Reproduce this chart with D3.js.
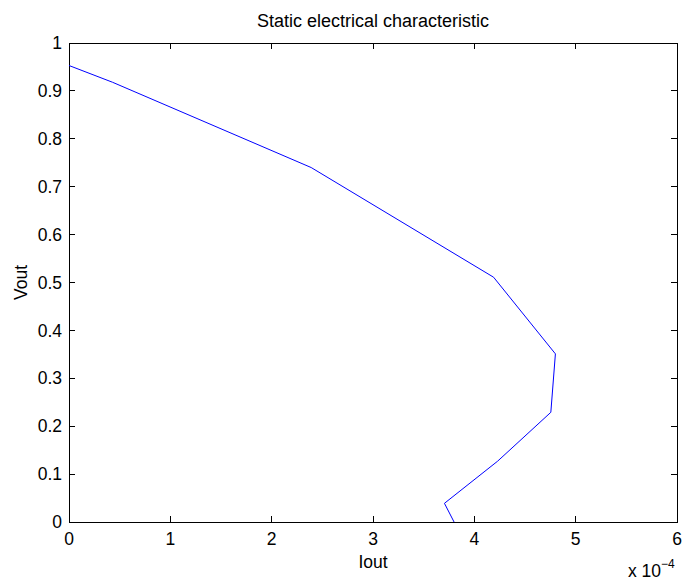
<!DOCTYPE html>
<html>
<head>
<meta charset="utf-8">
<script src="https://cdn.jsdelivr.net/npm/d3@7"></script>
<style>
  html, body { margin: 0; padding: 0; background: #fff; }
  svg { display: block; font-family: "Liberation Sans", Arial, Helvetica, sans-serif; }
</style>
</head>
<body>
<svg id="chart" width="686" height="581"></svg>
<script>
// Data (Iout in units of 1e-4 A, Vout in V)
const iout = [0, 0.43, 2.39, 4.19, 4.80, 4.755, 4.23, 3.705, 3.80];
const vout = [0.953, 0.918, 0.740, 0.511, 0.351, 0.229, 0.127, 0.039, 0];
const xTicks = [0, 1, 2, 3, 4, 5, 6];
const yTicks = [0, 0.1, 0.2, 0.3, 0.4, 0.5, 0.6, 0.7, 0.8, 0.9, 1];
const titleText = "Static electrical characteristic";
const xLabel = "Iout";
const yLabel = "Vout";

const svg = d3.select("#chart");
const L = 69, R = 677, T = 43, B = 522;
const x = d3.scaleLinear().domain([0, 6]).range([L, R]);
const y = d3.scaleLinear().domain([0, 1]).range([B, T]);
const fs = 17.5;

// box
svg.append("rect").attr("x", L).attr("y", T).attr("width", R - L).attr("height", B - T)
  .attr("fill", "#fff").attr("stroke", "#000").attr("stroke-width", 1).attr("shape-rendering", "crispEdges");

// ticks
const tk = svg.append("g").attr("stroke", "#000").attr("stroke-width", 1).attr("shape-rendering", "crispEdges");
xTicks.forEach(v => {
  tk.append("line").attr("x1", x(v)).attr("x2", x(v)).attr("y1", B).attr("y2", B - 6);
  tk.append("line").attr("x1", x(v)).attr("x2", x(v)).attr("y1", T).attr("y2", T + 6);
});
yTicks.forEach(v => {
  tk.append("line").attr("x1", L).attr("x2", L + 6).attr("y1", y(v)).attr("y2", y(v));
  tk.append("line").attr("x1", R).attr("x2", R - 6).attr("y1", y(v)).attr("y2", y(v));
});

// tick labels
svg.append("g").selectAll("text").data(xTicks).join("text")
  .attr("x", d => x(d)).attr("y", B + 23).attr("text-anchor", "middle")
  .attr("font-size", fs).attr("fill", "#000").text(d => d3.format("")(d));
svg.append("g").selectAll("text").data(yTicks).join("text")
  .attr("x", L - 7).attr("y", d => y(d)).attr("dy", "0.35em").attr("text-anchor", "end")
  .attr("font-size", fs).attr("fill", "#000").text(d => d3.format("")(d));

// exponent label
const ex = svg.append("text").attr("x", 628).attr("y", 577).attr("font-size", fs).attr("fill", "#000");
ex.append("tspan").text("x 10");
ex.append("tspan").attr("dy", -9).attr("font-size", 12).text("\u22124");

// axis labels & title
svg.append("text").attr("x", (L + R) / 2).attr("y", 568).attr("text-anchor", "middle")
  .attr("font-size", fs).attr("fill", "#000").text(xLabel);
svg.append("text").attr("transform", `translate(27,${(T + B) / 2}) rotate(-90)`)
  .attr("text-anchor", "middle").attr("font-size", fs).attr("fill", "#000").text(yLabel);
svg.append("text").attr("x", (L + R) / 2).attr("y", 27).attr("text-anchor", "middle")
  .attr("font-size", 18).attr("fill", "#000").text(titleText);

// line
const pts = iout.map((d, i) => [d, vout[i]]);
svg.append("path").datum(pts)
  .attr("d", d3.line().x(d => x(d[0])).y(d => y(d[1])))
  .attr("fill", "none").attr("stroke", "#0000ff").attr("stroke-width", 1);
</script>
</body>
</html>
